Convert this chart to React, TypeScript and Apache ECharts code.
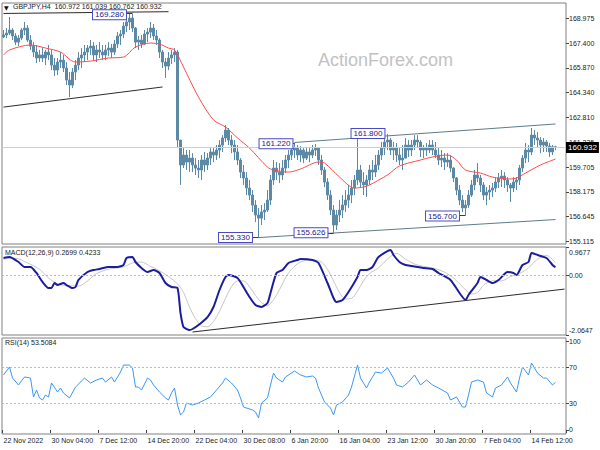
import React, { useEffect, useRef } from 'react';
import * as echarts from 'echarts';

// ---------- axis labels ----------
const SLOT_COUNT = 188; // each slot = two H4 bars
const tickLabels = ['22 Nov 2022', '30 Nov 04:00', '7 Dec 12:00', '14 Dec 20:00', '22 Dec 04:00', '30 Dec 08:00',
  '6 Jan 20:00', '16 Jan 04:00', '23 Jan 12:00', '30 Jan 20:00', '7 Feb 04:00', '14 Feb 12:00'];
const TICK_STEP = 16;
const priceTicks = [168.975, 167.4, 165.87, 164.34, 162.81, 161.235, 159.705, 158.175, 156.645, 155.115];
const macdTicks = [0.9677, 0, -2.0647];
const rsiTicks = [0, 30, 70, 100];

// ---------- price data ----------
const firstOpen = 167.8;
const highs = [
  168.23, 168.35, 169.04, 168.35, 168.04, 167.92, 168.35, 168.73, 168.54, 167.92,
  167.48, 167.30, 166.99, 167.11, 166.99, 167.30, 166.99, 166.49, 166.49, 166.86,
  166.68, 166.24, 165.62, 165.87, 166.36, 166.86, 167.11, 167.30, 167.30, 167.61,
  167.48, 167.30, 167.48, 167.30, 167.30, 167.48, 167.36, 167.61, 168.10, 168.23,
  168.73, 168.97, 169.28, 169.22, 168.42, 167.86, 167.92, 168.23, 168.35, 168.73,
  168.60, 168.23, 167.73, 166.99, 166.49, 166.86, 166.99, 167.11, 166.99, 161.39,
  160.89, 160.77, 160.77, 160.58, 160.27, 160.15, 160.46, 160.65, 160.58, 160.89,
  160.96, 161.08, 161.39, 161.70, 162.32, 162.14, 161.70, 161.39, 161.08, 160.27,
  159.84, 159.40, 158.91, 158.28, 157.66, 157.17, 157.35, 157.47, 158.28, 159.22,
  160.15, 160.02, 159.96, 160.15, 160.46, 160.77, 161.08, 161.22, 161.08, 161.02,
  160.89, 160.96, 160.89, 161.08, 161.14, 160.89, 160.46, 159.71, 159.03, 158.28,
  157.35, 157.04, 157.66, 157.97, 158.28, 158.60, 158.91, 159.22, 161.80, 159.84,
  159.40, 159.22, 159.84, 160.15, 160.46, 160.77, 161.27, 161.52, 161.77, 161.52,
  161.27, 161.21, 160.89, 161.08, 161.52, 161.39, 161.39, 161.70, 161.70, 161.39,
  161.08, 161.21, 161.39, 161.39, 161.27, 160.96, 160.77, 160.58, 160.58, 160.46,
  159.71, 159.09, 158.60, 157.97, 157.66, 158.28, 158.91, 159.53, 159.96, 159.22,
  158.78, 158.47, 158.60, 158.72, 159.03, 159.34, 159.53, 159.40, 159.09, 158.72,
  159.09, 159.09, 159.84, 160.46, 161.21, 161.08, 162.14, 162.01, 161.89, 161.58,
  161.52, 161.39, 161.21, 161.08, 161.039,
];
const lows = [
  167.73, 167.73, 167.92, 167.61, 167.30, 167.23, 167.61, 167.92, 167.48, 166.99,
  166.55, 166.18, 166.24, 166.24, 166.05, 166.36, 165.74, 165.37, 165.43, 165.87,
  165.62, 164.81, 164.06, 164.62, 165.12, 165.74, 165.87, 166.24, 166.36, 166.68,
  166.36, 166.24, 166.49, 166.36, 166.36, 166.61, 166.49, 166.68, 167.11, 167.30,
  167.73, 168.10, 168.23, 168.10, 167.11, 166.99, 167.11, 167.30, 167.48, 167.73,
  167.61, 167.30, 166.49, 165.87, 165.25, 165.74, 166.12, 166.24, 160.89, 158.60,
  159.65, 159.53, 159.40, 159.40, 159.22, 159.03, 158.91, 159.40, 159.53, 159.84,
  160.02, 160.15, 160.27, 160.65, 161.27, 161.08, 160.58, 160.15, 159.84, 159.03,
  158.60, 157.97, 157.66, 156.92, 156.29, 155.33, 156.11, 156.42, 156.92, 157.35,
  158.60, 158.91, 158.72, 158.91, 159.34, 159.65, 160.15, 160.27, 160.15, 160.02,
  159.96, 160.15, 160.02, 160.27, 160.40, 159.84, 159.22, 158.47, 157.66, 156.73,
  155.626, 155.80, 156.29, 156.54, 156.92, 157.17, 157.47, 157.97, 158.60, 158.41,
  157.97, 157.85, 158.60, 158.91, 159.09, 159.53, 160.15, 160.46, 160.77, 160.46,
  160.15, 160.02, 159.84, 159.53, 160.27, 160.34, 160.40, 160.77, 160.89, 160.34,
  160.27, 160.40, 160.58, 160.46, 160.27, 159.84, 159.71, 159.53, 159.71, 159.40,
  158.78, 157.97, 157.35, 156.92, 156.70, 157.17, 157.85, 158.28, 158.78, 158.16,
  157.66, 157.35, 157.66, 157.85, 158.16, 158.41, 158.47, 158.41, 158.16, 157.54,
  158.16, 158.28, 158.60, 159.40, 159.96, 160.02, 160.46, 161.08, 160.89, 160.58,
  160.65, 160.65, 160.34, 160.46, 160.762,
];
const closes = [
  167.92, 168.04, 168.23, 167.86, 167.48, 167.73, 168.23, 168.35, 167.61, 167.23,
  166.86, 166.49, 166.68, 166.49, 166.86, 166.68, 166.05, 165.74, 166.24, 166.36,
  165.87, 165.12, 164.81, 165.62, 166.05, 166.49, 166.68, 166.86, 167.11, 167.23,
  166.68, 166.99, 166.86, 166.68, 166.99, 167.11, 166.86, 167.36, 167.86, 167.98,
  168.48, 168.73, 168.97, 168.35, 167.48, 167.61, 167.36, 167.98, 168.10, 168.35,
  167.86, 167.61, 166.86, 166.24, 165.99, 166.49, 166.68, 166.86, 161.39, 159.84,
  160.46, 160.02, 160.27, 159.84, 159.65, 159.53, 160.15, 159.84, 160.27, 160.65,
  160.46, 160.77, 161.08, 161.52, 162.01, 161.39, 161.08, 160.65, 160.15, 159.40,
  159.03, 158.41, 157.97, 157.35, 156.73, 156.54, 156.92, 157.04, 157.66, 158.91,
  159.65, 159.40, 159.22, 159.65, 160.15, 160.46, 160.77, 160.89, 160.46, 160.77,
  160.27, 160.65, 160.46, 160.77, 160.89, 160.15, 159.53, 158.78, 157.97, 157.04,
  156.11, 156.73, 157.04, 157.35, 157.66, 157.97, 158.41, 158.91, 159.53, 158.78,
  158.60, 158.91, 159.53, 159.40, 159.84, 160.46, 160.89, 161.27, 161.39, 160.77,
  160.89, 160.46, 160.15, 160.27, 161.08, 160.77, 161.08, 161.39, 161.27, 160.77,
  160.89, 160.77, 161.08, 160.77, 160.46, 160.15, 160.27, 160.02, 160.15, 159.65,
  159.03, 158.28, 157.66, 157.17, 157.35, 157.97, 158.60, 159.22, 159.03, 158.60,
  157.97, 158.16, 158.28, 158.41, 158.78, 159.03, 159.15, 158.91, 158.60, 158.41,
  158.78, 158.91, 159.65, 160.27, 160.77, 160.65, 161.70, 161.52, 161.39, 161.08,
  161.27, 161.02, 160.65, 160.97, 160.932,
];
const lastClose = 160.932;

// moving average [slot, price]
const maPoints = [
  [0, 166.68], [2, 166.99], [9, 167.30], [14, 167.11], [19, 166.86], [24, 166.24], [29, 166.30],
  [35, 166.49], [40, 166.55], [44, 167.17], [49, 167.42], [52, 167.36], [55, 167.11], [57, 166.99],
  [60, 165.93], [65, 164.06], [70, 162.64], [74, 162.20], [78, 161.52], [82, 160.89], [88, 159.71],
  [90, 159.53], [95, 159.40], [99, 159.59], [105, 160.02], [107, 159.96], [112, 159.09], [117, 158.41],
  [120, 158.47], [122, 158.60], [128, 159.22], [132, 159.78], [139, 160.15], [143, 160.34], [148, 160.46],
  [151, 160.15], [154, 159.53], [159, 159.34], [163, 159.09], [169, 158.97], [171, 159.03], [174, 159.34],
  [179, 159.84], [184, 160.21],
];

// MACD main line [slot, value]
const macdPoints = [
  [0, 0.589], [2, 0.623], [5, 0.451], [7, 0.279], [9, 0.279], [11, 0.072], [13, -0.238], [15, -0.445],
  [16, -0.445], [17, -0.273], [18, -0.342], [20, -0.273], [21, -0.342], [23, -0.445], [24, -0.411],
  [25, -0.169], [28, 0.106], [30, 0.175], [32, 0.21], [35, 0.279], [38, 0.279], [40, 0.347], [41, 0.589],
  [43, 0.623], [44, 0.451], [46, 0.244], [48, 0.106], [50, 0.175], [52, 0.072], [54, -0.273], [56, -0.411],
  [58, -0.445], [59, -1.307], [60, -1.789], [62, -1.893], [63, -1.858], [65, -1.72], [68, -1.445],
  [70, -1.1], [72, -0.514], [74, -0.066], [75, 0.003], [78, -0.1], [80, -0.411], [82, -0.755], [84, -1.031],
  [86, -1.1], [88, -0.962], [89, -0.617], [91, 0.072], [93, 0.175], [95, 0.416], [98, 0.52], [99, 0.554],
  [103, 0.52], [105, 0.416], [108, -0.273], [110, -0.79], [111, -0.928], [113, -0.859], [115, -0.583],
  [118, -0.066], [119, 0.175], [121, 0.175], [123, 0.279], [125, 0.623], [129, 0.864], [130, 0.692],
  [132, 0.451], [134, 0.347], [136, 0.313], [138, 0.279], [140, 0.244], [143, 0.21], [145, 0.072],
  [149, -0.169], [152, -0.617], [154, -0.859], [155, -0.686], [158, -0.273], [159, -0.066], [161, -0.169],
  [163, -0.273], [165, -0.169], [168, 0.106], [170, 0.072], [171, 0.003], [173, 0.347], [175, 0.451],
  [176, 0.761], [178, 0.692], [181, 0.589], [183, 0.347], [184, 0.2699],
];

// MACD signal line [slot, value]
const signalPoints = [
  [0, 0.55], [4, 0.58], [8, 0.42], [12, 0.2], [15, -0.1], [18, -0.3], [21, -0.36], [25, -0.38], [28, -0.2],
  [31, 0.05], [35, 0.2], [40, 0.28], [43, 0.42], [46, 0.45], [49, 0.3], [52, 0.15], [55, -0.05], [58, -0.3],
  [60, -0.6], [62, -1.1], [64, -1.5], [66, -1.75], [68, -1.78], [70, -1.6], [72, -1.25], [74, -0.8],
  [76, -0.4], [78, -0.2], [80, -0.2], [82, -0.4], [84, -0.7], [86, -0.95], [88, -1.05], [90, -0.85],
  [92, -0.5], [94, -0.1], [96, 0.2], [99, 0.45], [103, 0.52], [106, 0.45], [108, 0.2], [110, -0.2],
  [112, -0.6], [114, -0.82], [116, -0.8], [118, -0.55], [120, -0.2], [122, 0.05], [125, 0.25], [128, 0.55],
  [131, 0.75], [134, 0.55], [137, 0.38], [140, 0.3], [144, 0.22], [147, 0.1], [150, -0.1], [153, -0.4],
  [156, -0.65], [158, -0.6], [160, -0.35], [163, -0.2], [166, -0.2], [169, -0.05], [172, 0.05], [175, 0.25],
  [178, 0.55], [181, 0.68], [184, 0.4233],
];

// RSI(14) [slot, value]
const rsiPoints = [
  [0, 61.8], [2, 70.8], [3, 58.4], [5, 50.6], [7, 59.6], [9, 58.4], [10, 37.1], [11, 44.9], [12, 36.0],
  [13, 33.7], [14, 39.3], [15, 37.1], [16, 52.8], [18, 42.7], [19, 47.2], [20, 41.6], [22, 36.0], [24, 48.3],
  [27, 58.4], [29, 52.8], [31, 56.2], [33, 58.4], [34, 53.9], [36, 59.6], [37, 53.9], [39, 65.2], [40, 73.0],
  [42, 73.0], [43, 69.7], [44, 48.3], [45, 48.3], [46, 44.9], [48, 58.4], [49, 56.2], [50, 50.6], [52, 42.7],
  [54, 36.0], [55, 33.7], [56, 41.6], [57, 47.2], [58, 28.1], [59, 16.9], [60, 20.2], [61, 30.3], [63, 28.1],
  [65, 30.3], [67, 33.7], [69, 37.1], [71, 44.9], [73, 52.8], [74, 58.4], [76, 52.8], [78, 44.9], [79, 36.0],
  [80, 25.8], [83, 22.5], [84, 20.2], [85, 13.5], [86, 30.3], [88, 36.0], [89, 50.6], [90, 64.0], [91, 58.4],
  [93, 53.9], [94, 59.6], [97, 66.3], [99, 61.8], [101, 59.6], [103, 60.7], [104, 58.4], [105, 47.2],
  [107, 31.5], [109, 24.7], [110, 16.9], [111, 28.1], [113, 31.5], [115, 39.3], [116, 48.3], [118, 73.0],
  [119, 58.4], [121, 47.2], [122, 53.9], [124, 65.2], [126, 64.0], [128, 69.7], [130, 58.4], [131, 50.6],
  [133, 48.3], [135, 53.9], [137, 61.8], [139, 50.6], [141, 56.2], [143, 50.6], [145, 47.2], [148, 41.6],
  [149, 33.7], [151, 37.1], [153, 25.8], [154, 25.8], [155, 39.3], [156, 53.9], [158, 56.2], [160, 53.9],
  [161, 41.6], [163, 37.1], [164, 47.2], [166, 50.6], [168, 59.6], [169, 52.8], [171, 42.7], [172, 58.4],
  [173, 70.8], [175, 61.8], [176, 75.3], [178, 64.0], [180, 58.4], [181, 58.4], [183, 50.6], [184, 53.5084],
];

// trend lines [[slot, price], [slot, price]]
const priceTrendLines = [
  [[0, 169.26], [55, 169.37]],
  [[0, 163.44], [53, 164.69]],
];
const channelLines = [
  [[97, 161.24], [184, 162.39]],
  [[85, 155.33], [184, 156.45]],
];
const macdTrendLine = [[63, -1.962], [187, -0.483]];

// price labels: [slot, price, text, dx, dy]
const priceNotes = [
  [42, 169.28, '169.280', -20, 1.5],
  [97, 161.22, '161.220', -18.5, 1],
  [85, 155.33, '155.330', -23, 0],
  [110, 155.626, '155.626', -22.5, 0],
  [118, 161.8, '161.800', 10.5, 0],
  [154, 156.7, '156.700', -23, 0.5],
];
// connectors from note box to the bar: [fromSlot, toSlot, price]
const noteConnectors = [
  [41, 43, 169.28], [96, 97, 161.22], [83, 85, 155.33], [108, 110, 155.626], [152, 154, 156.7],
];

const FONT = '"Liberation Sans", Arial, sans-serif';
const BAR = '#5b89a6';
const AXIS_TXT = '#1a1a1a';

function buildOption() {
  const categories = Array.from({ length: SLOT_COUNT }, (_, i) => String(i));
  const candles = closes.map((c, i) => [i === 0 ? firstOpen : closes[i - 1], c, lows[i], highs[i]]);
  const tickOn = (idx: number) => idx % TICK_STEP === 0;

  const xAxes = [0, 1, 2].map((g) => ({
    type: 'category',
    gridIndex: g,
    data: categories,
    boundaryGap: true,
    axisLine: { show: false },
    axisTick: { show: g === 2, interval: tickOn, length: 3, lineStyle: { color: '#444' } },
    axisLabel: {
      show: g === 2,
      interval: tickOn,
      formatter: (_v: string, idx: number) => tickLabels[idx / TICK_STEP] ?? '',
      align: 'left',
      fontSize: 7,
      color: AXIS_TXT,
      margin: 3,
      fontFamily: FONT,
    },
    splitLine: { show: false },
  }));

  const yCommon = {
    type: 'value',
    position: 'right',
    axisLine: { show: false },
    splitLine: { show: false },
  };

  const thinLine = (color: string) => ({ color, width: 1, type: 'solid' });

  return {
    animation: false,
    backgroundColor: '#ffffff',
    textStyle: { fontFamily: FONT },
    grid: [
      { left: 2, top: 3, width: 564, height: 241, show: true, borderColor: '#808080', borderWidth: 1 },
      { left: 2, top: 247, width: 564, height: 88, show: true, borderColor: '#808080', borderWidth: 1 },
      { left: 2, top: 338, width: 564, height: 96, show: true, borderColor: '#808080', borderWidth: 1 },
    ],
    xAxis: xAxes,
    yAxis: [
      {
        ...yCommon,
        gridIndex: 0,
        min: 154.93,
        max: 169.91,
        axisTick: { show: true, length: 3, customValues: priceTicks, lineStyle: { color: '#444' } },
        axisLabel: {
          customValues: priceTicks,
          formatter: (v: number) => v.toFixed(3),
          fontSize: 7,
          color: AXIS_TXT,
          margin: 3,
          fontFamily: FONT,
        },
      },
      {
        ...yCommon,
        gridIndex: 1,
        min: -2.0647,
        max: 0.9677,
        axisTick: { show: true, length: 3, customValues: macdTicks, lineStyle: { color: '#444' } },
        axisLabel: {
          customValues: macdTicks,
          formatter: (v: number) =>
            v > 0.5 ? '{t|' + v.toFixed(4) + '}' : v < -1 ? '{b|' + v.toFixed(4) + '}' : '{n|0.00}',
          rich: {
            t: { padding: [11, 0, 0, 0], fontSize: 7, color: AXIS_TXT, fontFamily: FONT },
            b: { padding: [0, 0, 9, 0], fontSize: 7, color: AXIS_TXT, fontFamily: FONT },
            n: { fontSize: 7, color: AXIS_TXT, fontFamily: FONT },
          },
          margin: 3,
        },
      },
      {
        ...yCommon,
        gridIndex: 2,
        min: -4.5,
        max: 103.4,
        axisTick: { show: true, length: 3, customValues: rsiTicks, lineStyle: { color: '#444' } },
        axisLabel: {
          customValues: rsiTicks,
          formatter: (v: number) => String(v),
          fontSize: 7,
          color: AXIS_TXT,
          margin: 3,
          fontFamily: FONT,
        },
      },
    ],
    graphic: [
      {
        type: 'text', left: 318, top: 51, z: 0,
        style: { text: 'ActionForex.com', fill: '#c2c2c2', font: '18px ' + FONT },
      },
      { type: 'text', left: 4, top: 4, style: { text: '▼', fill: '#111', font: '6px "DejaVu Sans"' } },
      {
        type: 'text', left: 13, top: 3,
        style: { text: 'GBPJPY,H4  160.972 161.039 160.762 160.932', fill: '#1a1a1a', font: '7px ' + FONT },
      },
      {
        type: 'text', left: 5, top: 249,
        style: { text: 'MACD(12,26,9) 0.2699 0.4233', fill: '#1a1a1a', font: '7px ' + FONT },
      },
      {
        type: 'text', left: 5, top: 339,
        style: { text: 'RSI(14) 53.5084', fill: '#1a1a1a', font: '7px ' + FONT },
      },
    ],
    series: [
      {
        type: 'candlestick',
        xAxisIndex: 0,
        yAxisIndex: 0,
        data: candles,
        barWidth: 1.6,
        itemStyle: { color: BAR, color0: BAR, borderColor: BAR, borderColor0: BAR, borderWidth: 1 },
        markLine: {
          silent: true,
          symbol: ['none', 'none'],
          label: { show: false },
          data: [
            {
              yAxis: lastClose,
              lineStyle: thinLine('#cfcfcf'),
              label: {
                show: true,
                position: 'end',
                distance: 0,
                formatter: lastClose.toFixed(3),
                backgroundColor: '#000',
                color: '#fff',
                fontSize: 8,
                padding: [2, 2, 1, 2],
                fontFamily: FONT,
              },
            },
            ...priceTrendLines.map((seg) => [
              { coord: seg[0], lineStyle: thinLine('#2b2b2b') },
              { coord: seg[1] },
            ]),
            ...channelLines.map((seg) => [
              { coord: seg[0], lineStyle: thinLine('#5f7c86') },
              { coord: seg[1] },
            ]),
            ...noteConnectors.map((c) => [
              { coord: [c[0], c[2]], lineStyle: thinLine('#33338f') },
              { coord: [c[1], c[2]] },
            ]),
          ],
        },
        markPoint: {
          silent: true,
          symbol: 'rect',
          symbolSize: 1,
          itemStyle: { color: 'rgba(0,0,0,0)' },
          data: priceNotes.map((n) => ({
            coord: [n[0], n[1]],
            label: {
              show: true,
              position: 'inside',
              offset: [n[3], n[4]],
              formatter: String(n[2]),
              backgroundColor: '#ffffff',
              borderColor: '#4a4ac4',
              borderWidth: 1,
              padding: [1, 2, 0, 2],
              color: '#22228a',
              fontSize: 8,
              lineHeight: 8,
              fontFamily: FONT,
            },
          })),
        },
      },
      {
        type: 'line',
        xAxisIndex: 0,
        yAxisIndex: 0,
        data: maPoints,
        symbol: 'none',
        smooth: 0.3,
        lineStyle: { color: '#ff4a4a', width: 1 },
        z: 3,
      },
      {
        type: 'line',
        xAxisIndex: 1,
        yAxisIndex: 1,
        data: signalPoints,
        symbol: 'none',
        smooth: 0.3,
        lineStyle: { color: '#c6c6c6', width: 1 },
      },
      {
        type: 'line',
        xAxisIndex: 1,
        yAxisIndex: 1,
        data: macdPoints,
        symbol: 'none',
        smooth: 0.2,
        lineStyle: { color: '#1c1c9e', width: 2 },
        z: 3,
        markLine: {
          silent: true,
          symbol: ['none', 'none'],
          label: { show: false },
          data: [
            { yAxis: 0, lineStyle: { color: '#b8b8b8', width: 1, type: [2, 2] } },
            [{ coord: macdTrendLine[0], lineStyle: thinLine('#2b2b2b') }, { coord: macdTrendLine[1] }],
          ],
        },
      },
      {
        type: 'line',
        xAxisIndex: 2,
        yAxisIndex: 2,
        data: rsiPoints,
        symbol: 'none',
        lineStyle: { color: '#3a98f5', width: 1 },
        markLine: {
          silent: true,
          symbol: ['none', 'none'],
          label: { show: false },
          data: [
            { yAxis: 70, lineStyle: { color: '#b8b8b8', width: 1, type: [2, 2] } },
            { yAxis: 30, lineStyle: { color: '#b8b8b8', width: 1, type: [2, 2] } },
          ],
        },
      },
    ],
  };
}

export default function App() {
  const ref = useRef<HTMLDivElement>(null);
  useEffect(() => {
    if (!ref.current) return;
    const chart = echarts.init(ref.current, null, { renderer: 'svg' });
    chart.setOption(buildOption() as any);
    return () => chart.dispose();
  }, []);
  return <div ref={ref} style={{ position: 'absolute', left: 0, top: 0, width: 600, height: 450 }} />;
}
